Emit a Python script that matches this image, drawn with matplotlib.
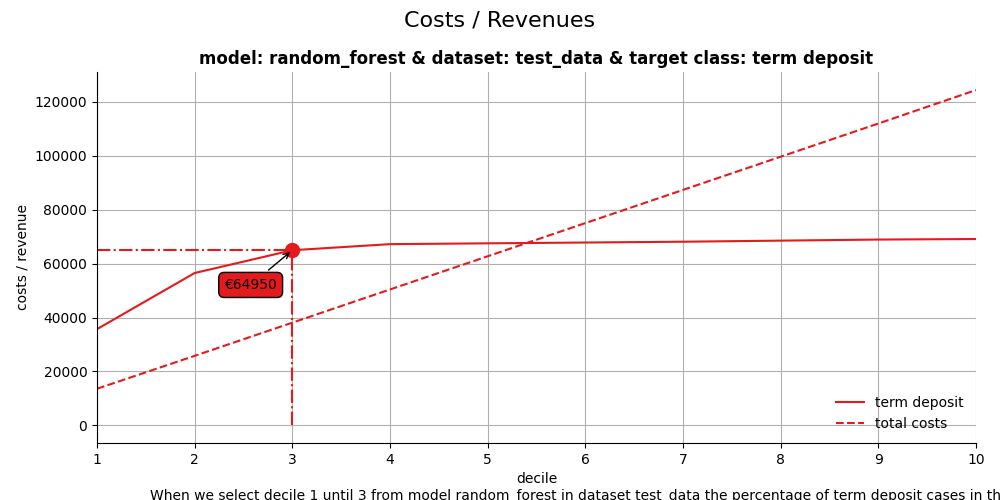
import numpy as np
import matplotlib.pyplot as plt

deciles = [1, 2, 3, 4, 5, 6, 7, 8, 9, 10]
revenue = [35700, 56500, 64950, 67200, 67500, 67800, 68100, 68500, 68900, 69100]
costs = [13600, 25800, 38100, 50400, 62700, 75000, 87300, 99600, 111900, 124300]
sel_decile = 3
sel_value = 64950

fig = plt.figure(figsize=(10, 5), dpi=100)
fig.suptitle("Costs / Revenues", fontsize=16)
ax = fig.add_axes([0.097, 0.114, 0.879, 0.742])
ax.set_title("model: random_forest & dataset: test_data & target class: term deposit",
             fontsize=12, fontweight="bold")

red = "#e41a1c"
ax.plot(deciles, revenue, color=red, linestyle="-", label="term deposit")
ax.plot(deciles, costs, color=red, linestyle="--", label="total costs")

ax.plot([1, sel_decile], [sel_value, sel_value], color=red, linestyle="-.")
ax.plot([sel_decile, sel_decile], [0, sel_value], color=red, linestyle="-.")
ax.plot(sel_decile, sel_value, "o", color=red, markersize=10)
ax.annotate(f"€{sel_value}", xy=(sel_decile, sel_value), xytext=(-30, -25),
            textcoords="offset points", fontsize=10, ha="center", va="center",
            bbox=dict(boxstyle="round,pad=0.4", fc=red, ec="black"),
            arrowprops=dict(arrowstyle="->", color="black"))

ax.set_xlim(1, 10)
ax.set_ylim(-6500, 131000)
ax.set_xticks(deciles)
ax.set_yticks(range(0, 120001, 20000))
ax.grid(True)
ax.spines["top"].set_visible(False)
ax.spines["right"].set_visible(False)
ax.set_xlabel("decile")
ax.set_ylabel("costs / revenue")
ax.legend(loc="lower right", frameon=False)

fig.text(0.15, 0.0, "When we select decile 1 until 3 from model random_forest in dataset test_data "
         "the percentage of term deposit cases in the selection is high.", fontsize=10)

fig.savefig("out.png")
